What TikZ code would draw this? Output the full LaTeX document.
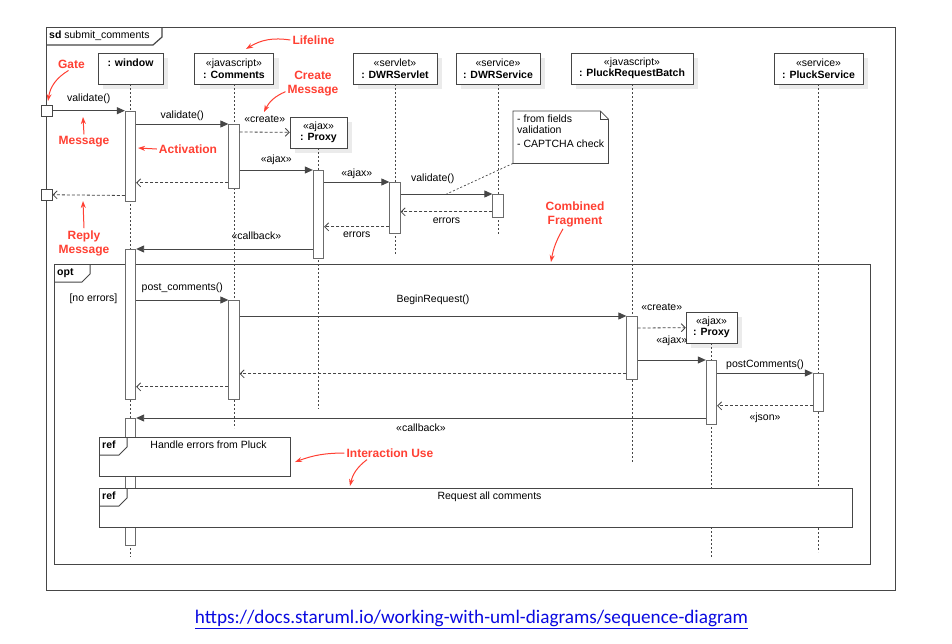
\documentclass[tikz,border=0pt]{standalone}
\usepackage{fontspec}
\setmainfont{Liberation Sans}
\newfontfamily\linkfont{Carlito}
\usetikzlibrary{arrows.meta,shadows}
\definecolor{ink}{RGB}{70,70,70}
\definecolor{annot}{RGB}{255,64,51}
\definecolor{linkblue}{RGB}{10,10,225}

\begin{document}
\begin{tikzpicture}[x=1pt,y=-1pt,
  every node/.style={font=\fontsize{10.5}{11.5}\selectfont},
  head/.style={draw=ink,fill=white,minimum height=31pt,align=center,inner sep=2pt,
    drop shadow={shadow xshift=5pt,shadow yshift=-5pt,fill=black!8,opacity=1}},
  life/.style={draw=ink,line width=0.7pt,dash pattern=on 2pt off 2pt},
  act/.style={draw=ink!80,fill=white,line width=0.8pt,minimum width=10.5pt,inner sep=0pt,anchor=north},
  msg/.style={draw=ink,line width=0.9pt,-{Triangle[length=8pt,width=7pt]}},
  rep/.style={draw=ink,line width=0.8pt,dash pattern=on 3pt off 2pt,-{Straight Barb[length=4pt,width=8pt]}},
  lbl/.style={inner sep=1pt,text height=8pt,text depth=2pt},
  frame/.style={draw=ink,line width=1pt},
  gate/.style={draw=ink,fill=white,line width=0.8pt,minimum size=10.5pt,inner sep=0pt},
  tag/.style={text=annot,font=\fontsize{12}{14}\selectfont\bfseries,align=center,inner sep=2pt},
  point/.style={color=annot,line width=1pt,-{Stealth[length=7pt,width=5pt]}}
]

\path[fill=white] (0,0) rectangle (952,643);

\node[frame,line width=1.2pt,minimum width=849pt,minimum height=563pt,anchor=north west] (sd) at (46,27) {};
\draw[frame,line width=1.2pt] ([yshift=-18pt]sd.north west) -- ++(107,0) -- ++(9,-8) -- ++(0,-10);
\node[anchor=west,inner sep=1pt] (sdl) at (48,36) {\textbf{sd} submit\_comments};

\node[frame,minimum width=816pt,minimum height=300pt,anchor=north west] (opt) at (54,264) {};
\draw[frame] ([yshift=-18pt]opt.north west) -- ++(28,0) -- ++(8,-8) -- ++(0,-10);
\node[anchor=west,inner sep=1pt] (optl) at (56,273) {\textbf{opt}};
\node (guard) at (93.5,299) {[no errors]};

\node[head,minimum width=65pt,text height=8pt,text depth=12pt] (win) at (130.5,68.5) {\textbf{: window}};
\node[head,minimum width=79pt] (cmt) at (234,68.5) {«javascript»\\\textbf{: Comments}};
\node[head,minimum width=57pt] (px1) at (318.5,132.5) {«ajax»\\\textbf{: Proxy}};
\node[head,minimum width=84pt] (svl) at (395,68.5) {«servlet»\\\textbf{: DWRServlet}};
\node[head,minimum width=84pt] (svc) at (498,68.5) {«service»\\\textbf{: DWRService}};
\node[head,minimum width=122pt] (prb) at (632,68.5) {«javascript»\\\textbf{: PluckRequestBatch}};
\node[head,minimum width=89pt] (pks) at (818.5,68.5) {«service»\\\textbf{: PluckService}};
\node[head,minimum width=51pt] (px2) at (711.5,327.5) {«ajax»\\\textbf{: Proxy}};

\draw[life] (win.south) -- ++(0,473);
\draw[life] (cmt.south) -- ++(0,344);
\draw[life] (px1.south) -- ++(0,261);
\draw[life] (svl.south) -- ++(0,171);
\draw[life] (svc.south) -- ++(0,151);
\draw[life] (prb.south) -- ++(0,378);
\draw[life] (pks.south) -- ++(0,468);
\draw[life] (px2.south) -- ++(0,214);

\node[act,minimum height=90pt] (aW1) at (130.5,110.7) {};
\node[act,minimum height=64pt] (aC1) at (234,124) {};
\node[act,minimum height=88pt] (aP1) at (318.5,170) {};
\node[act,minimum height=51pt] (aS) at (395,182) {};
\node[act,minimum height=23pt] (aV) at (498,194) {};
\node[act,minimum height=150pt] (aW2) at (130.5,249) {};
\node[act,minimum height=99pt] (aC2) at (234,300) {};
\node[act,minimum height=63pt] (aB) at (632,316) {};
\node[act,minimum height=64pt] (aP2) at (711.5,360) {};
\node[act,minimum height=38pt] (aK) at (818.5,373) {};
\node[act,minimum height=127pt] (aW3) at (130.5,418) {};

\node[gate] (g1) at (47,110.7) {};
\node[gate] (g2) at (47,194.7) {};

\draw[msg] (g1) -- node[lbl,above=6pt] (m1) {validate()} (aW1.north west);
\draw[rep] ([yshift=6pt]aW1.south west) -- (g2);
\draw[msg] (aW1.east |- aC1.north) -- node[lbl,above=2pt] (m2) {validate()} (aC1.north west);
\draw[rep] ([yshift=-8pt]aC1.north east) -- node[lbl,above=6pt] (m3) {«create»} (px1);
\draw[msg] (aC1.east |- aP1.north) -- node[lbl,above=4pt] (m4) {«ajax»} (aP1.north west);
\draw[rep] ([yshift=6pt]aC1.south west) coordinate (r1) -- (aW1.east |- r1);
\draw[msg] (aP1.east |- aS.north) -- node[lbl,above=2pt] (m6) {«ajax»} (aS.north west);
\draw[msg] (aS.east |- aV.north) -- node[lbl,above=9pt,pos=0.35] (m7) {validate()} coordinate[pos=0.5] (nt) (aV.north west);
\draw[rep] ([yshift=6pt]aV.south west) coordinate (r2) -- node[lbl,below=2pt] (m8) {errors} (aS.east |- r2);
\draw[rep] ([yshift=7pt]aS.south west) coordinate (r3) -- node[lbl,below=1pt] (m9) {errors} (aP1.east |- r3);
\draw[msg] (aP1.west |- aW2.north) -- node[lbl,above=6pt,pos=0.32] (m10) {«callback»} (aW2.north east);

\draw[msg] (aW2.east |- aC2.north) -- node[lbl,above=6pt] (m11) {post\_comments()} (aC2.north west);
\draw[msg] (aC2.east |- aB.north) -- node[lbl,above=10pt] (m12) {BeginRequest()} (aB.north west);
\draw[rep] ([yshift=-12pt]aB.north east) -- node[lbl,above=14pt] (m13) {«create»} (px2);
\draw[msg] (aB.east |- aP2.north) -- node[lbl,above=13pt] (m14) {«ajax»} (aP2.north west);
\draw[rep] ([yshift=6pt]aB.south west) coordinate (r4) -- (aC2.east |- r4);
\draw[msg] (aP2.east |- aK.north) -- node[lbl,above=2pt] (m16) {postComments()} (aK.north west);
\draw[rep] ([yshift=6pt]aK.south west) coordinate (r5) -- node[lbl,below=5pt] (m17) {«json»} (aP2.east |- r5);
\draw[rep] ([yshift=13pt]aC2.south west) coordinate (r6) -- (aW2.east |- r6);
\draw[msg] (aP2.west |- aW3.north) -- node[lbl,below=4pt] (m19) {«callback»} (aW3.north east);

\node[anchor=north west,fill=white,minimum width=95pt,minimum height=52pt,inner sep=0pt] (note) at (513,111) {};
\draw[ink,line width=0.8pt] (note.north west) -- ([xshift=-8pt]note.north east) -- ([yshift=-8pt]note.north east) -- (note.south east) -- (note.south west) -- cycle;
\draw[ink,line width=0.8pt] ([xshift=-8pt]note.north east) -- ([xshift=-8pt,yshift=-8pt]note.north east) -- ([yshift=-8pt]note.north east);
\node[anchor=north west,align=left,inner xsep=4pt,inner ysep=3.5pt] (notetext) at (note.north west) {- from fields\\validation\\[2pt]- CAPTCHA check};
\draw[ink,line width=0.7pt,dash pattern=on 2pt off 2pt] (note.south west) -- (nt);

\node[frame,fill=white,minimum width=191pt,minimum height=39pt,anchor=north west] (ref1) at (99,437) {};
\draw[frame] ([yshift=-18pt]ref1.north west) -- ++(20,0) -- ++(8,-8) -- ++(0,-10);
\node[anchor=west,inner sep=1pt] (ref1l) at (101,445) {\textbf{ref}};
\node (ref1t) at (208.5,445) {Handle errors from Pluck};

\node[frame,fill=white,minimum width=753pt,minimum height=39pt,anchor=north west] (ref2) at (99,488) {};
\draw[frame] ([yshift=-18pt]ref2.north west) -- ++(20,0) -- ++(8,-8) -- ++(0,-10);
\node[anchor=west,inner sep=1pt] (ref2l) at (101,496) {\textbf{ref}};
\node (ref2t) at (489.5,497) {Request all comments};

\node[tag] (lifeT) at (313.5,40) {Lifeline};
\node[tag] (gateT) at (71.5,64) {Gate};
\node[tag] (msgT) at (84,142) {Message};
\node[tag] (actT) at (188,149) {Activation};
\node[tag] (creT) at (313,84) {Create\\Message};
\node[tag] (repT) at (84,243) {Reply\\Message};
\node[tag] (cfT) at (575,214) {Combined\\Fragment};
\node[tag] (iuT) at (390,453) {Interaction Use};

\coordinate (lifeP) at (246,49);
\coordinate (gateP) at (48,101);
\coordinate (msgP) at (83,117);
\coordinate (actP) at (138,148);
\coordinate (creP) at (264,112);
\coordinate (repP) at (83,201);
\coordinate (cfP) at (551,262);
\coordinate (iuP1) at (295,462);
\coordinate (iuP2) at (350,486);

\draw[point] (lifeT.west) to[bend right=20] (lifeP);
\draw[point] ([xshift=-3pt]gateT.south) to[bend right=25] (gateP);
\draw[point] (msgT.north) -- (msgP);
\draw[point] (actT.west) -- (actP);
\draw[point] ([yshift=7pt]creT.south west) to[bend right=20] (creP);
\draw[point] (repT.north) -- (repP);
\draw[point] ([xshift=-12pt]cfT.south) to[bend right=10] (cfP);
\draw[point] (iuT.west) to[bend right=10] (iuP1);
\draw[point] ([xshift=-23pt]iuT.south) to[bend right=20] (iuP2);

\node (url) at (471.5,619) {\linkfont\fontsize{19.2}{21}\selectfont\color{linkblue}\underline{https://docs.staruml.io/working-with-uml-diagrams/sequence-diagram}};

\end{tikzpicture}
\end{document}
